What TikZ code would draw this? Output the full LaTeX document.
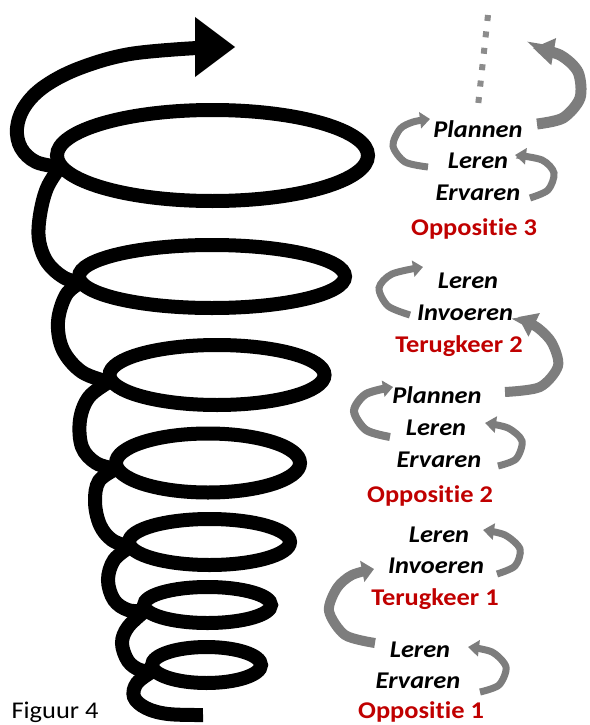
\documentclass[tikz,border=0pt]{standalone}
\usepackage{fontspec}
\setmainfont{Carlito}[Ligatures=NoCommon,FakeStretch=1.1]
\usetikzlibrary{arrows.meta}
\definecolor{redlab}{RGB}{192,0,0}
\definecolor{arrgray}{RGB}{125,125,125}
\definecolor{dotgray}{RGB}{140,140,140}
\begin{document}
\begin{tikzpicture}[x=1pt,y=-1pt,
  ring/.style={draw=black,line width=14pt},
  strand/.style={draw=black,line width=14pt,line cap=round},
  blab/.style={font=\fontsize{24}{26}\selectfont\bfseries\itshape,text=black,inner sep=0pt,anchor=base},
  rlab/.style={font=\fontsize{24}{26}\selectfont\bfseries,text=redlab,inner sep=0pt,anchor=base},
  garr/.style n args={3}{draw=arrgray,line width=#1,line cap=butt,-{Triangle[width=#2,length=#3]}}]
\useasboundingbox (0,0) rectangle (589,725);
% rings
\draw[ring] (212.5,155.5) ellipse [x radius=155.5,y radius=45.5];
\draw[ring] (212,276.5) ellipse [x radius=133,y radius=31.5];
\draw[ring] (217,375) ellipse [x radius=107.5,y radius=30];
\draw[ring] (208,463) ellipse [x radius=92,y radius=29.5];
\draw[ring] (209.5,542) ellipse [x radius=80.5,y radius=23];
\draw[ring] (207.5,605) ellipse [x radius=63.5,y radius=18];
\draw[ring] (206.5,665) ellipse [x radius=54.5,y radius=18];
% crossing points of the strand with the rings
\coordinate (v1) at (60,167);
\coordinate (v2) at (80,283);
\coordinate (v3) at (109,382);
\coordinate (v4) at (116,469);
\coordinate (v5) at (130,547);
\coordinate (v6) at (145,611);
\coordinate (v7) at (153,671);
\coordinate (aend) at (197,48);
\coordinate (tend) at (203,715);
% connecting strand
\draw[strand] plot[smooth,tension=0.6] coordinates {(v1) (36,162) (21,148) (17,128) (25,106) (45,86) (80,68) (130,54) (aend)};
\draw[strand] plot[smooth,tension=0.6] coordinates {(v1) (47,188) (40,215) (39,240) (47,262) (63,277) (v2)};
\draw[strand] plot[smooth,tension=0.6] coordinates {(v2) (66,295) (58,322) (63,350) (82,372) (v3)};
\draw[strand] plot[smooth,tension=0.6] coordinates {(v3) (89,397) (80,420) (82,447) (96,463) (v4)};
\draw[strand] plot[smooth,tension=0.6] coordinates {(v4) (99,481) (95,502) (100,525) (112,540) (v5)};
\draw[strand] plot[smooth,tension=0.6] coordinates {(v5) (114,560) (108,580) (114,600) (128,610) (v6)};
\draw[strand] plot[smooth,tension=0.6] coordinates {(v6) (128,627) (122,643) (128,661) (140,670) (v7)};
\draw[strand,line cap=butt] plot[smooth,tension=0.6] coordinates {(v7) (137,683) (134,697) (146,708) (168,714) (tend)};
\fill[black] (v7) circle (7);
\fill[black] (195,17) -- (235,47) -- (195,77) -- cycle;
% dotted line
\draw[dotgray,line width=6pt,dash pattern=on 6pt off 10.5pt] (488,15) -- (478,106);
% grey curved arrows
\draw[garr={11pt}{26pt}{21pt}] plot[smooth] coordinates {(537,124) (563,118) (580,98) (578,72) (560,55) (533,48)};
\draw[garr={7pt}{16pt}{10pt}] plot[smooth] coordinates {(428,167) (405,162) (393,146) (400,129) (413,122) (430,119)};
\draw[garr={7pt}{16pt}{11pt}] plot[smooth] coordinates {(530,198) (548,190) (554,173) (542,160) (515,155)};
\draw[garr={7pt}{16pt}{10pt}] plot[smooth] coordinates {(410,315) (388,306) (379,288) (392,274) (423,267)};
\draw[garr={10pt}{25pt}{18pt}] plot[smooth] coordinates {(505,392) (540,387) (558,366) (552,343) (538,328) (518,317)};
\draw[garr={8pt}{16pt}{10pt}] plot[smooth] coordinates {(390,437) (366,430) (354,411) (366,394) (393,387)};
\draw[garr={7pt}{16pt}{11pt}] plot[smooth] coordinates {(498,466) (516,459) (522,441) (508,428) (485,423)};
\draw[garr={7pt}{16pt}{11pt}] plot[smooth] coordinates {(497,574) (515,566) (520,549) (505,535) (483,530)};
\draw[garr={10pt}{21pt}{12pt}] plot[smooth] coordinates {(375,643) (345,635) (329,611) (337,588) (352,575) (374,569)};
\draw[garr={7pt}{16pt}{11pt}] plot[smooth] coordinates {(480,692) (499,685) (506,667) (492,652) (468,647)};
% labels
\node[blab] (p3) at (478,137) {Plannen};
\node[blab] (l3) at (478,168) {Leren};
\node[blab] (e3) at (478,200) {Ervaren};
\node[rlab] (o3) at (474,235) {Oppositie 3};
\node[blab] (l2a) at (468,288) {Leren};
\node[blab] (i2) at (465,320) {Invoeren};
\node[rlab] (t2) at (459,352) {Terugkeer 2};
\node[blab] (p2) at (437,403) {Plannen};
\node[blab] (l2b) at (436,435) {Leren};
\node[blab] (e2) at (439,467) {Ervaren};
\node[rlab] (o2) at (430,502) {Oppositie 2};
\node[blab] (l1a) at (439,542) {Leren};
\node[blab] (i1) at (436,573) {Invoeren};
\node[rlab] (t1) at (435,605) {Terugkeer 1};
\node[blab] (l1b) at (420,657) {Leren};
\node[blab] (e1) at (418,688) {Ervaren};
\node[rlab] (o1) at (421,718) {Oppositie 1};
\node[font=\fontsize{24}{26}\selectfont,inner sep=0pt,anchor=base] (fig) at (55,718) {Figuur 4};
\end{tikzpicture}
\end{document}
